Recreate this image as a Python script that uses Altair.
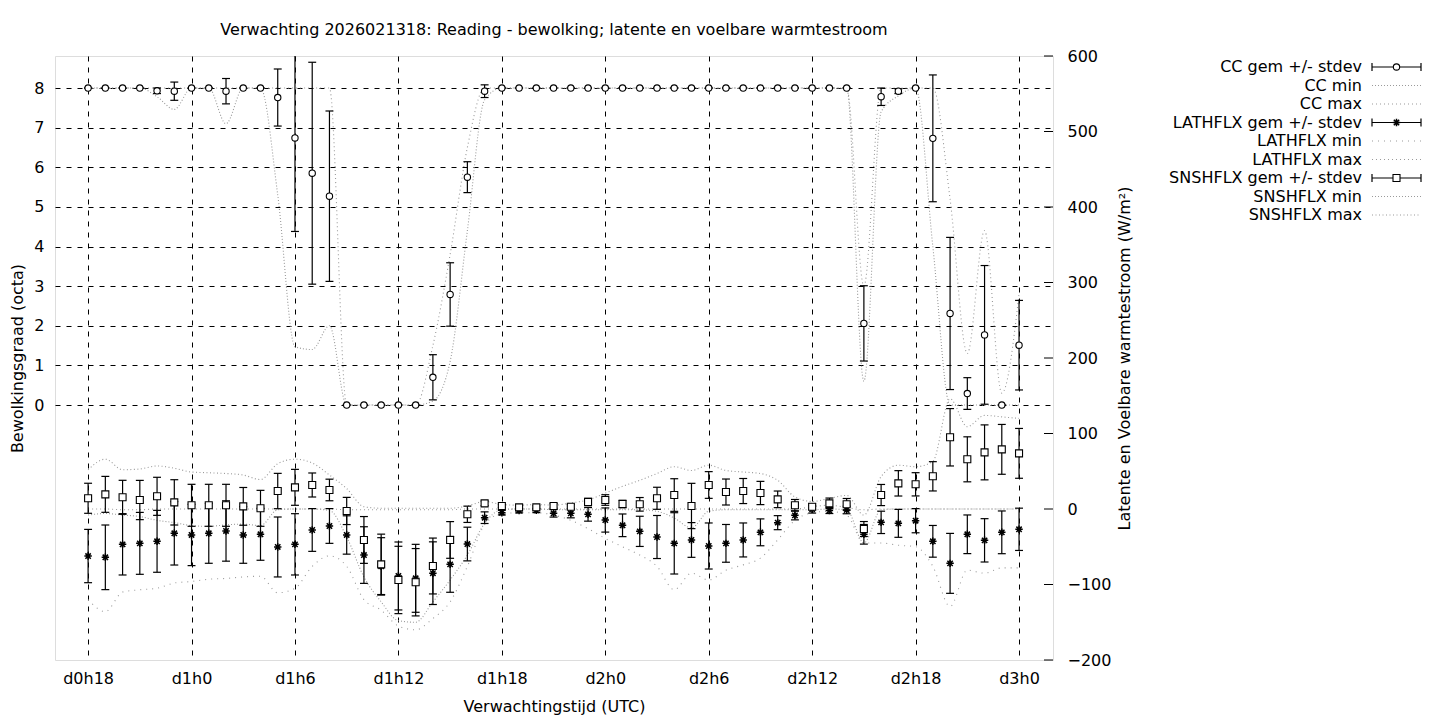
import altair as alt
import pandas as pd

# ---------------- data ----------------
hours = list(range(18, 73))
x_ticks = [18, 24, 30, 36, 42, 48, 54, 60, 66, 72]
cc_ticks = [0, 1, 2, 3, 4, 5, 6, 7, 8]
flux_ticks = [-200, -100, 0, 100, 200, 300, 400, 500, 600]

cc_mean = [8, 8, 8, 8, 7.93, 7.92, 8, 8, 7.92, 8, 8, 7.76,
           6.74, 5.85, 5.27, 0, 0, 0, 0, 0, 0.70, 2.79, 5.75, 7.92,
           8, 8, 8, 8, 8, 8, 8, 8, 8, 8, 8, 8,
           8, 8, 8, 8, 8, 8, 8, 8, 8, 2.06, 7.78, 7.92,
           8, 6.73, 2.31, 0.29, 1.77, 0.0, 1.51]
cc_sd = [0, 0, 0, 0, 0.07, 0.23, 0, 0, 0.32, 0, 0, 0.72,
         2.36, 2.80, 2.15, 0, 0, 0, 0, 0, 0.57, 0.80, 0.39, 0.16,
         0, 0, 0, 0, 0, 0, 0, 0, 0, 0, 0, 0,
         0, 0, 0, 0, 0, 0, 0, 0, 0, 0.95, 0.22, 0.06,
         0, 1.60, 1.92, 0.40, 1.75, 0, 1.13]
cc_min = [8, 8, 8, 8, 7.78, 7.46, 8, 8, 7.10, 8, 8, 5.3,
          1.47, 1.40, 2.0, 0, 0, 0, 0, 0, 0.1, 1.1, 4.4, 7.7,
          8, 8, 8, 8, 8, 8, 8, 8, 8, 8, 8, 8,
          8, 8, 8, 8, 8, 8, 8, 8, 8, 0.6, 7.4, 7.8,
          8, 4.0, 0, 0, 0, 0, 0]
cc_max = [8, 8, 8, 8, 8, 8, 8, 8, 8, 8, 8, 8,
          8, 8, 8, 0, 0, 0, 0, 0, 1.5, 3.8, 6.5, 8,
          8, 8, 8, 8, 8, 8, 8, 8, 8, 8, 8, 8,
          8, 8, 8, 8, 8, 8, 8, 8, 8, 3.0, 8, 8,
          8, 8, 5.2, 1.3, 4.4, 0.3, 2.8]

lat_mean = [-62.3, -64, -46.8, -45.5, -42.8, -32.2, -34.4, -32.2, -29.1, -34.4, -33.5, -50.3,
            -46.8, -27.8, -22.5, -34.4, -61, -76, -88.7, -91.8, -85, -73.3, -46.4, -11.5,
            -4.9, -2.2, -1.8, -5.7, -5.7, -7.1, -14.6, -21.6, -29.6, -37.1, -45.5, -41,
            -49, -45.5, -41, -30.9, -18.1, -8.4, -0.4, -2, -1.3, -33.5, -17.7, -19,
            -15.5, -42.8, -72, -33.5, -41.5, -30.9, -26.9]
lat_sd = [35.3, 42.8, 40.6, 41, 41, 42, 40.6, 39.7, 40, 37.5, 34.4, 39.7,
          40.6, 28.3, 23, 25.4, 37.5, 38, 45, 45, 41.5, 37, 22.3, 7.7,
          3, 3, 3, 5, 6, 9, 16, 15, 20, 28.5, 40.6, 23,
          30.5, 25, 22.5, 17.8, 9.3, 6, 5, 4, 5, 13, 14.8, 18.5,
          16, 21, 39.7, 25.6, 28.7, 28.3, 28]
lat_min = [-120, -136, -110, -107, -105, -98, -96, -93, -92, -90, -89, -111,
           -105, -76, -62, -76, -120, -134, -155, -160, -145, -123, -76, -21,
           -6, -5, -5, -8, -15, -26, -39, -50, -61, -76, -107, -85,
           -94, -81, -74, -65, -41, -15, -5, -3, -8, -45, -45, -48,
           -50, -76, -129, -81, -85, -78, -78]
lat_max = [0, 0, -1, -1, 0, 0, 0, 0, 0, 0, 0, 0,
           0, 0, 0, -1, -1, -1, -1, -1, -1, -1, 0, 0,
           0, 0, 0, 0, 0, 0, 0, 0, 0, 0, 0, 0,
           0, 0, 0, 0, 0, 0, 3, 5, 2, -1, 0, 0,
           0, 0, 0, 0, 0, 0, 0]

sn_mean = [14.2, 19.4, 15.5, 11.9, 16.8, 8.8, 4.9, 4.9, 4.9, 3.5, 0.9, 23.8,
           28.7, 31.8, 25.2, -2.6, -41, -73.3, -94, -97, -75.5, -41, -7, 7.5,
           4, 2.2, 2.2, 4, 3, 9.3, 11.9, 6.6, 6.2, 14.2, 18.5, 4,
           31.8, 22.5, 23.8, 21.2, 12.8, 4.9, 3, 7.5, 6.2, -26.5, 18.5, 34,
           32.7, 43.3, 95, 65.8, 75, 79, 73.7]
sn_sd = [19.9, 23.8, 22.5, 26, 25.2, 30, 27.8, 27.8, 27.8, 25, 23.8, 23.4,
         23.8, 15.9, 14.3, 18, 31, 40, 44.6, 44.6, 37, 24.3, 10.8, 3,
         2, 2, 2, 3, 3, 5, 7, 5, 9, 14.6, 21.6, 30,
         17.7, 17.2, 16.6, 15.4, 11, 7.7, 4, 7, 7.7, 9.9, 14, 16.8,
         15.4, 19.4, 38, 29.8, 36.4, 33, 33]
sn_min = [-8, -6, -8, -10, -15, -18, -22, -23, -21, -20, -22, -1,
          0, 0, -2, -37, -90, -123, -148, -150, -123, -94, -61, -19,
          -1, 0, 0, -1, -1, -1, -1, -1, -1, -3, -12, -25,
          -3, -1, -1, -1, -1, -1, -1, 0, -1, -45, -1, 0,
          0, 0, 0, 0, 0, 0, 0]
sn_max = [52, 66, 52, 53, 57, 54, 49, 48, 47, 45, 39, 60,
          66, 61, 45, 27, 3, 1, 1, 1, 1, 1, 4, 10,
          6, 5, 6, 5, 8, 12, 21, 30, 38, 47, 56, 51,
          58, 51, 49, 47, 38, 16, 10, 14, 18, -8, 43, 58,
          56, 63, 146, 109, 124, 122, 120]

legend_labels = ["CC gem +/- stdev", "CC min", "CC max",
                 "LATHFLX gem +/- stdev", "LATHFLX min", "LATHFLX max",
                 "SNSHFLX gem +/- stdev", "SNSHFLX min", "SNSHFLX max"]

# ---------------- styling ----------------
W, H = 998, 604
FONT = "DejaVu Sans"
FS = 16
GRAY = "#9a9a9a"
CAP = 0.23
GRID_DASH = [5, 6]
ASTERISK = "M-1,0L1,0M0,-1L0,1M-0.72,-0.72L0.72,0.72M-0.72,0.72L0.72,-0.72"
SZ_CIRCLE, SZ_SQUARE, SZ_AST = 40, 49, 55

xscale = alt.Scale(domain=[16.08, 73.97], nice=False, zero=False)
xaxis = alt.Axis(values=x_ticks,
                 labelExpr="'d' + floor(datum.value/24) + 'h' + (datum.value % 24)",
                 title="Verwachtingstijd (UTC)", grid=True, gridDash=GRID_DASH,
                 gridColor="black", gridOpacity=1, gridWidth=1, domain=False,
                 ticks=True, tickSize=0, labelPadding=10, titlePadding=12,
                 labelFont=FONT, titleFont=FONT, labelFontSize=FS, titleFontSize=FS,
                 titleFontWeight="normal", labelColor="black", titleColor="black")

cc_scale = alt.Scale(domain=[-6.435, 8.808], nice=False, zero=False)
cc_axis = alt.Axis(values=cc_ticks, orient="left", title="Bewolkingsgraad (octa)",
                   grid=True, gridDash=GRID_DASH, gridColor="black", gridOpacity=1,
                   gridWidth=1, domain=False, ticks=True, tickSize=0,
                   labelPadding=11, titlePadding=8, labelFont=FONT, titleFont=FONT,
                   labelFontSize=FS, titleFontSize=FS, titleFontWeight="normal",
                   labelColor="black", titleColor="black")

flux_scale = alt.Scale(domain=[-200, 600], nice=False, zero=False)
flux_axis = alt.Axis(values=flux_ticks, orient="right",
                     title="Latente en Voelbare warmtestroom (W/m²)",
                     grid=False, domain=False, ticks=True, tickSize=0,
                     labelPadding=14, titlePadding=6, titleAngle=270,
                     titleBaseline="top", labelFont=FONT, titleFont=FONT,
                     labelFontSize=FS, titleFontSize=FS, titleFontWeight="normal",
                     labelColor="black", titleColor="black")

X = alt.X("h:Q", scale=xscale, axis=xaxis)


def point_mark(chart, shape, size, filled, clip):
    if filled:
        return chart.mark_point(shape=shape, size=size, filled=True, fill="white",
                                stroke="black", strokeWidth=1.1, opacity=1, clip=clip)
    return chart.mark_point(shape=shape, size=size, filled=False, color="black",
                            strokeWidth=1.5, opacity=1, clip=clip)


def series_layers(mean, sd, mn, mx, yscale, yaxis, shape, size, filled, dmin, dmax):
    df = pd.DataFrame({"h": hours, "mean": mean, "sd": sd, "min": mn, "max": mx})
    base = alt.Chart(df)

    def Y(f):
        return alt.Y(f + ":Q", scale=yscale, axis=yaxis)

    lmin = base.mark_line(color=GRAY, strokeWidth=1.1, strokeDash=dmin,
                          interpolate="monotone", clip=True).encode(x=X, y=Y("min"))
    lmax = base.mark_line(color=GRAY, strokeWidth=1.1, strokeDash=dmax,
                          interpolate="monotone", clip=True).encode(x=X, y=Y("max"))
    eb = base.transform_calculate(lo="datum.mean - datum.sd", hi="datum.mean + datum.sd")
    bar = eb.mark_rule(color="black", strokeWidth=1.2, clip=True).encode(
        x=X, y=Y("lo"), y2=alt.Y2("hi:Q"))
    caps = (eb.transform_fold(["lo", "hi"], as_=["k", "v"])
              .transform_calculate(xl="datum.h - %f" % CAP, xr="datum.h + %f" % CAP)
              .mark_rule(color="black", strokeWidth=1.2, clip=True)
              .encode(x=alt.X("xl:Q", scale=xscale, axis=xaxis), x2=alt.X2("xr:Q"),
                      y=Y("v")))
    pts = point_mark(base, shape, size, filled, True).encode(x=X, y=Y("mean"))
    return [lmin, lmax, bar, caps, pts]


cc_layers = series_layers(cc_mean, cc_sd, cc_min, cc_max, cc_scale, cc_axis,
                          "circle", SZ_CIRCLE, True, [1, 2], [1, 3])
lat_layers = series_layers(lat_mean, lat_sd, lat_min, lat_max, flux_scale, flux_axis,
                           ASTERISK, SZ_AST, False, [1, 5], [1, 3])
sn_layers = series_layers(sn_mean, sn_sd, sn_min, sn_max, flux_scale, flux_axis,
                          "square", SZ_SQUARE, True, [1, 2], [1, 2.5])

right_ticks = alt.Chart(pd.DataFrame({"v": flux_ticks})).mark_rule(
    color="black", strokeWidth=1).encode(
    y=alt.Y("v:Q", scale=flux_scale, axis=flux_axis),
    x=alt.value(W - 9), x2=alt.value(W))

cc_group = alt.layer(*cc_layers)
flux_group = alt.layer(*(lat_layers[:2] + sn_layers[:2] + lat_layers[2:] + sn_layers[2:]
                         + [right_ticks]))

# ---------------- legend (gnuplot style: text, then sample) ----------------
legend_layers = []
styles = [("bar", "circle", True, None, SZ_CIRCLE), ("line", None, None, [1, 2], 0),
          ("line", None, None, [1, 3], 0),
          ("bar", ASTERISK, False, None, SZ_AST), ("line", None, None, [1, 5], 0),
          ("line", None, None, [1, 3], 0),
          ("bar", "square", True, None, SZ_SQUARE), ("line", None, None, [1, 2], 0),
          ("line", None, None, [1, 2.5], 0)]
TX = W + 309
S0, S1 = W + 319, W + 368
for i, lab in enumerate(legend_labels):
    py = 11 + i * 18.5
    row = alt.Chart(pd.DataFrame({"label": [lab]}))
    legend_layers.append(row.mark_text(align="right", baseline="middle", font=FONT,
                                       fontSize=FS, color="black").encode(
        x=alt.value(TX), y=alt.value(py), text="label:N"))
    kind, shp, fil, dash, sz = styles[i]
    if kind == "bar":
        legend_layers.append(row.mark_rule(color="black", strokeWidth=1.2).encode(
            x=alt.value(S0), x2=alt.value(S1), y=alt.value(py)))
        for sx in (S0, S1):
            legend_layers.append(row.mark_rule(color="black", strokeWidth=1.2).encode(
                x=alt.value(sx), y=alt.value(py - 4), y2=alt.value(py + 4)))
        legend_layers.append(point_mark(row, shp, sz, fil, False).encode(
            x=alt.value((S0 + S1) / 2), y=alt.value(py)))
    else:
        legend_layers.append(row.mark_rule(color=GRAY, strokeWidth=1.1, strokeDash=dash).encode(
            x=alt.value(S0), x2=alt.value(S1), y=alt.value(py)))

legend_group = alt.layer(*legend_layers)

chart = (alt.layer(cc_group, flux_group, legend_group)
         .resolve_scale(y="independent")
         .properties(width=W, height=H,
                     padding={"left": 47, "top": 48, "right": 379, "bottom": 56},
                     autosize=alt.AutoSizeParams(type="none"),
                     title=alt.TitleParams(
                         "Verwachting 2026021318: Reading - bewolking; latente en voelbare warmtestroom",
                         font=FONT, fontSize=FS, fontWeight="normal", color="black",
                         anchor="middle", frame="group", offset=10))
         .configure_view(stroke="black", strokeWidth=1)
         .configure(font=FONT, background="white"))

chart.save("out.html", embed_options={"renderer": "svg", "actions": False})
